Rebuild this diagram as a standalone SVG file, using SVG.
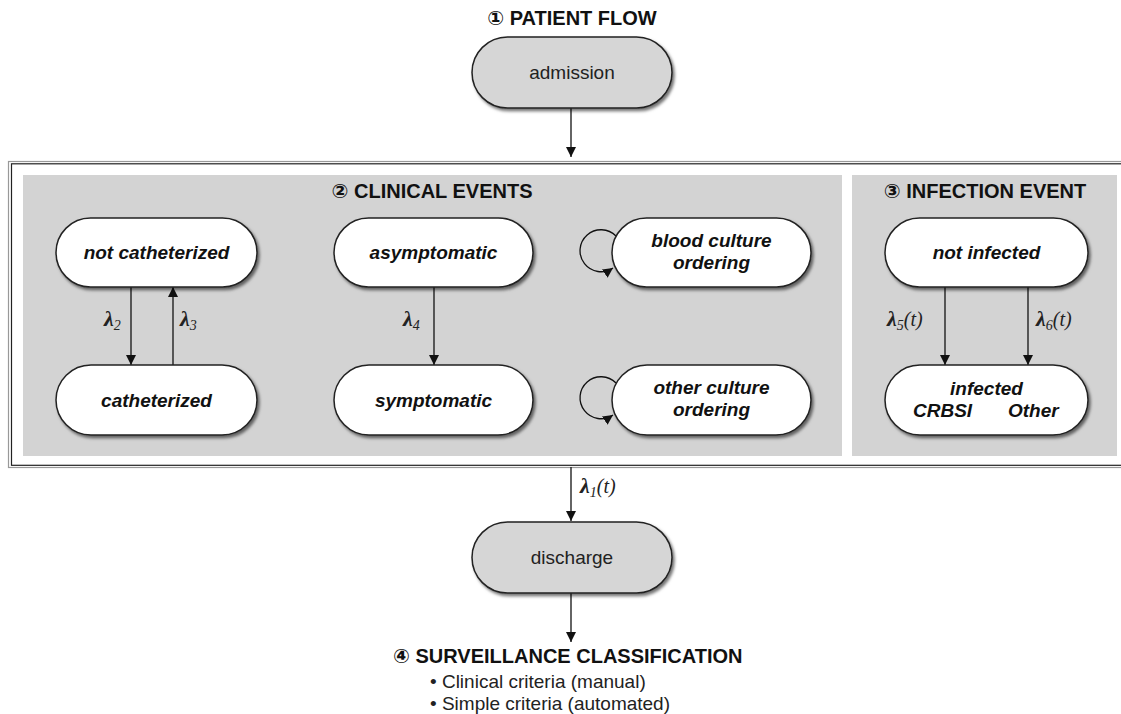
<svg xmlns="http://www.w3.org/2000/svg" width="1121" height="714" viewBox="0 0 1121 714">
<style>
.title{font-family:"Liberation Sans","DejaVu Sans",sans-serif;font-weight:bold;font-size:20px;fill:#111}
.plain{font-family:"Liberation Sans",Arial,sans-serif;font-size:19px;fill:#222}
.state{font-family:"Liberation Sans",Arial,sans-serif;font-size:19px;font-weight:bold;font-style:italic;fill:#111}
.lam{font-family:"Liberation Serif","Times New Roman",serif;font-style:italic;font-size:20px;fill:#222}
.lam .sym{font-weight:bold;font-size:22px}
.sub{font-size:14px}
.node{stroke:#222;stroke-width:1.5}
.gnode{fill:#d6d6d6}
.wnode{fill:#ffffff}
.panel{fill:#d3d3d3}
.conn{stroke:#111;stroke-width:1.3;fill:none}
</style>
<defs>
<filter id="sh" x="-10%" y="-20%" width="130%" height="150%">
<feDropShadow dx="2" dy="2.5" stdDeviation="1.5" flood-color="#000" flood-opacity="0.55"/>
</filter>
<marker id="ah" viewBox="0 0 10 10" refX="10" refY="5" markerWidth="10" markerHeight="10" markerUnits="userSpaceOnUse" orient="auto">
<path d="M0,0 L10,5 L0,10 z" fill="#111"/>
</marker>
</defs>
<rect width="1121" height="714" fill="#fff"/>

<g id="frame">
<rect x="8.5" y="161.5" width="1130" height="306" fill="none" stroke="#999" stroke-width="1.2"/>
<rect x="11.5" y="163.8" width="1130" height="301.5" fill="none" stroke="#222" stroke-width="1.2"/>
<rect class="panel" x="23" y="175" width="819" height="281"/>
<rect class="panel" x="852" y="175" width="265" height="281"/>
</g>

<g id="titles">
<text class="title" x="572" y="25" text-anchor="middle">① PATIENT FLOW</text>
<text class="title" x="432" y="198" text-anchor="middle">② CLINICAL EVENTS</text>
<text class="title" x="985" y="198" text-anchor="middle">③ INFECTION EVENT</text>
<text class="title" x="393" y="663">④ SURVEILLANCE CLASSIFICATION</text>
<text class="plain" x="430" y="688">• Clinical criteria (manual)</text>
<text class="plain" x="430" y="710">• Simple criteria (automated)</text>
</g>

<g id="connectors">
<line class="conn" x1="571" y1="108" x2="571" y2="157" marker-end="url(#ah)"/>
<line class="conn" x1="571" y1="467" x2="571" y2="521" marker-end="url(#ah)"/>
<line class="conn" x1="571" y1="593" x2="571" y2="642" marker-end="url(#ah)"/>
<line class="conn" x1="131" y1="287" x2="131" y2="365" marker-end="url(#ah)"/>
<line class="conn" x1="173" y1="365" x2="173" y2="287" marker-end="url(#ah)"/>
<line class="conn" x1="434" y1="287" x2="434" y2="365" marker-end="url(#ah)"/>
<line class="conn" x1="945" y1="287" x2="945" y2="365" marker-end="url(#ah)"/>
<line class="conn" x1="1028" y1="287" x2="1028" y2="365" marker-end="url(#ah)"/>
<path class="conn" d="M616,236 A21,21 0 1 0 613,268" marker-end="url(#ah)"/>
<path class="conn" d="M616,383 A21,21 0 1 0 613,415" marker-end="url(#ah)"/>
<text class="lam" x="104" y="326"><tspan class="sym">λ</tspan><tspan class="sub" dy="4">2</tspan></text>
<text class="lam" x="180" y="326"><tspan class="sym">λ</tspan><tspan class="sub" dy="4">3</tspan></text>
<text class="lam" x="403" y="326"><tspan class="sym">λ</tspan><tspan class="sub" dy="4">4</tspan></text>
<text class="lam" x="887" y="326"><tspan class="sym">λ</tspan><tspan class="sub" dy="4">5</tspan><tspan dy="-4">(t)</tspan></text>
<text class="lam" x="1036" y="326"><tspan class="sym">λ</tspan><tspan class="sub" dy="4">6</tspan><tspan dy="-4">(t)</tspan></text>
<text class="lam" x="580" y="493"><tspan class="sym">λ</tspan><tspan class="sub" dy="4">1</tspan><tspan dy="-4">(t)</tspan></text>
</g>

<g id="admission">
<rect class="node gnode" filter="url(#sh)" x="472" y="37" width="200" height="71" rx="35.5"/>
<text class="plain" x="572" y="79" text-anchor="middle">admission</text>
</g>
<g id="discharge">
<rect class="node gnode" filter="url(#sh)" x="472" y="522" width="200" height="71" rx="35.5"/>
<text class="plain" x="572" y="564" text-anchor="middle">discharge</text>
</g>
<g id="not-catheterized">
<rect class="node wnode" filter="url(#sh)" x="56" y="218" width="201" height="69" rx="34.5"/>
<text class="state" x="156.5" y="259" text-anchor="middle">not catheterized</text>
</g>
<g id="catheterized">
<rect class="node wnode" filter="url(#sh)" x="56" y="365" width="201" height="70" rx="35"/>
<text class="state" x="156.5" y="406.5" text-anchor="middle">catheterized</text>
</g>
<g id="asymptomatic">
<rect class="node wnode" filter="url(#sh)" x="334" y="218" width="199" height="69" rx="34.5"/>
<text class="state" x="433.5" y="259" text-anchor="middle">asymptomatic</text>
</g>
<g id="symptomatic">
<rect class="node wnode" filter="url(#sh)" x="334" y="365" width="199" height="70" rx="35"/>
<text class="state" x="433.5" y="406.5" text-anchor="middle">symptomatic</text>
</g>
<g id="blood-culture">
<rect class="node wnode" filter="url(#sh)" x="612" y="218" width="199" height="69" rx="34.5"/>
<text class="state" x="711.5" y="247" text-anchor="middle">blood culture</text>
<text class="state" x="711.5" y="269" text-anchor="middle">ordering</text>
</g>
<g id="other-culture">
<rect class="node wnode" filter="url(#sh)" x="612" y="365" width="199" height="70" rx="35"/>
<text class="state" x="711.5" y="394" text-anchor="middle">other culture</text>
<text class="state" x="711.5" y="416" text-anchor="middle">ordering</text>
</g>
<g id="not-infected">
<rect class="node wnode" filter="url(#sh)" x="885" y="218" width="203" height="69" rx="34.5"/>
<text class="state" x="986.5" y="259" text-anchor="middle">not infected</text>
</g>
<g id="infected">
<rect class="node wnode" filter="url(#sh)" x="885" y="365" width="203" height="70" rx="35"/>
<text class="state" x="986.5" y="395" text-anchor="middle">infected</text>
<text class="state" x="913" y="417">CRBSI</text>
<text class="state" x="1008" y="417">Other</text>
</g>
</svg>
